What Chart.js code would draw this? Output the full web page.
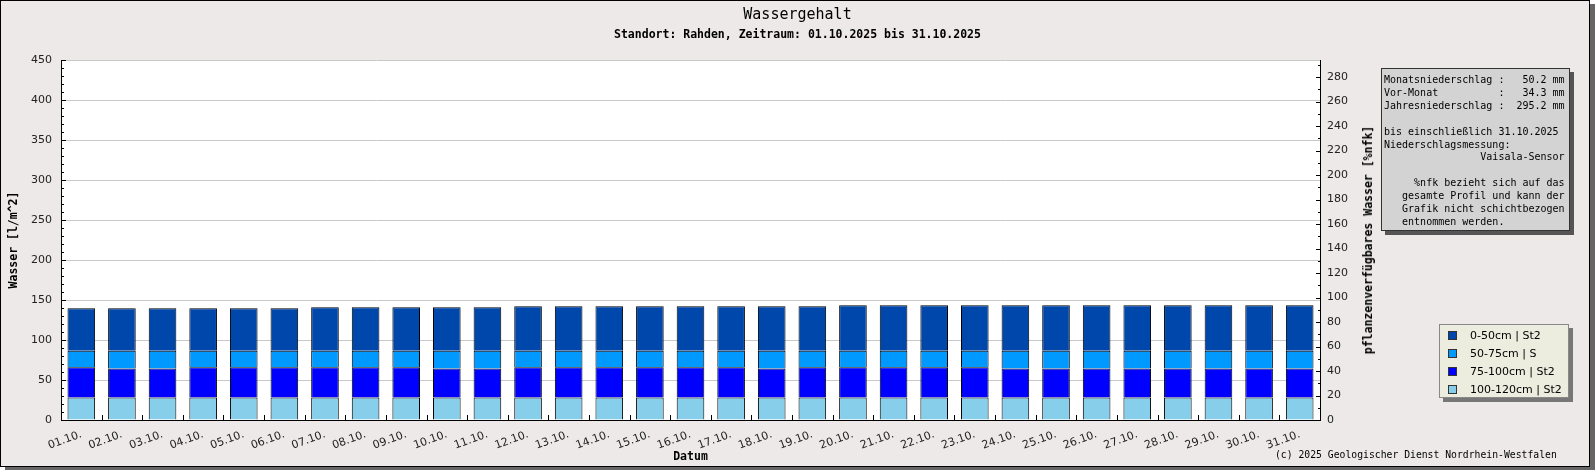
<!DOCTYPE html>
<html>
<head>
<meta charset="utf-8">
<title>Wassergehalt</title>
<script src="https://cdn.jsdelivr.net/npm/chart.js@4"></script>
<style>
html, body { margin: 0; padding: 0; background: #fff; }
#frame { position: absolute; left: 0; top: 0; width: 1590px; height: 467px; box-sizing: border-box;
	border: 1px solid #000; background: #ece9e8; box-shadow: 5px 4px 0 #666; }
#c { position: absolute; left: 0; top: 0; }
.mono { font-family: "DejaVu Sans Mono", monospace; color: #000; position: absolute; white-space: pre; }
#title { left: 0; width: 1595px; text-align: center; top: 5px; font-size: 15px; line-height: 18px; }
#subtitle { left: 0; width: 1595px; text-align: center; top: 27px; font-size: 11.5px; line-height: 14px; font-weight: bold; }
#ytitle2 { left: 1368px; top: 240px; font-size: 11.5px; line-height: 14px; font-weight: bold;
	transform: translate(-50%, -50%) rotate(-90deg); }
#info { left: 1381px; top: 68px; width: 189px; height: 163px; box-sizing: border-box; margin: 0;
	border: 1px solid #333; background: #d3d3d3; box-shadow: 4px 4px 0 #555;
	padding: 5px 2px 0 2px; font-size: 10px; line-height: 12.9px; }
#legend { position: absolute; left: 1439px; top: 324px; width: 130px; height: 74px; box-sizing: border-box;
	border: 1px solid #888; background: #ececdf; box-shadow: 4px 4px 0 #777; padding-top: 2px;
	font-family: "DejaVu Sans", sans-serif; font-size: 11px; }
#legend div { height: 18px; line-height: 18px; position: relative; padding-left: 30px; white-space: nowrap; }
#legend span { position: absolute; left: 8px; top: 4px; width: 9px; height: 9px; box-sizing: border-box; border: 1px solid #333; }
#footer { left: 1275px; top: 449px; font-size: 9.75px; line-height: 12px; }
</style>
</head>
<body>
<div id="frame"></div>
<canvas id="c" width="1595" height="470"></canvas>
<div id="title" class="mono">Wassergehalt</div>
<div id="subtitle" class="mono">Standort: Rahden, Zeitraum: 01.10.2025 bis 31.10.2025</div>
<div id="ytitle2" class="mono">pflanzenverfügbares Wasser [%nfk]</div>
<pre id="info" class="mono">Monatsniederschlag :   50.2 mm
Vor-Monat          :   34.3 mm
Jahresniederschlag :  295.2 mm

bis einschließlich 31.10.2025
Niederschlagsmessung:
                Vaisala-Sensor

     %nfk bezieht sich auf das
   gesamte Profil und kann der
   Grafik nicht schichtbezogen
   entnommen werden.</pre>
<div id="legend"></div>
<div id="footer" class="mono">(c) 2025 Geologischer Dienst Nordrhein-Westfalen</div>
<script>
// Datum (Oktober 2025)
var days = ['01.10.', '02.10.', '03.10.', '04.10.', '05.10.', '06.10.', '07.10.', '08.10.',
	'09.10.', '10.10.', '11.10.', '12.10.', '13.10.', '14.10.', '15.10.', '16.10.',
	'17.10.', '18.10.', '19.10.', '20.10.', '21.10.', '22.10.', '23.10.', '24.10.',
	'25.10.', '26.10.', '27.10.', '28.10.', '29.10.', '30.10.', '31.10.'];

// Wasser [l/m^2] je Schicht, von unten nach oben gestapelt
var layer100_120 = [28, 28, 28, 28, 28, 28, 28, 28, 28, 28, 28, 28, 28, 28, 28, 28,
	28, 28, 28, 28, 28, 28, 28, 28, 28, 28, 28, 28, 28, 28, 28];
var layer75_100 = [37.8, 36.5, 36.5, 37.8, 37.8, 37.8, 37.8, 37.8, 37.8, 36.5, 36.5, 37.8, 37.8, 37.8, 37.8, 37.8,
	37.8, 36.5, 37.8, 37.8, 37.8, 37.8, 37.8, 36.5, 36.5, 36.5, 36.5, 36.5, 36.5, 36.5, 36.5];
var layer50_75 = [20.9, 22.2, 22.2, 20.9, 20.9, 20.9, 20.9, 20.9, 20.9, 22.2, 22.2, 20.9, 20.9, 20.9, 20.9, 20.9,
	20.9, 22.2, 20.9, 20.9, 20.9, 20.9, 20.9, 22.2, 22.2, 22.2, 22.2, 22.2, 22.2, 22.2, 22.2];
var layer0_50 = [52.9, 52.9, 52.9, 52.9, 52.9, 52.9, 54.1, 54.1, 54.1, 54.1, 54.1, 55.4, 55.4, 55.4, 55.4, 55.4,
	55.4, 55.4, 55.4, 56.6, 56.6, 56.6, 56.6, 56.6, 56.6, 56.6, 56.6, 56.6, 56.6, 56.6, 56.6];

// Achsen
var leftMax = 450, leftStep = 50, leftMinor = 10;
var rightMax = 294, rightStep = 20, rightMinor = 10;

var tickFont = {family: 'DejaVu Sans', size: 11};
var titleFont = {family: 'DejaVu Sans Mono', size: 11.5, weight: 'bold'};

// weisser Plotbereich und nach innen zeigende Striche
var plotDecor = {
	id: 'plotDecor',
	beforeDraw: function(chart){
		var ctx = chart.ctx, a = chart.chartArea;
		ctx.save();
		ctx.fillStyle = '#fff';
		ctx.fillRect(a.left, a.top, a.right - a.left, a.bottom - a.top);
		ctx.restore();
	},
	afterDraw: function(chart){
		var ctx = chart.ctx, a = chart.chartArea;
		var sy = chart.scales.y, sy2 = chart.scales.y2, sx = chart.scales.x;
		var v, y, x, i, len;
		ctx.save();
		ctx.strokeStyle = '#000';
		ctx.lineWidth = 1;
		ctx.beginPath();
		for (v = 0; v <= leftMax; v += leftMinor){
			y = Math.round(sy.getPixelForValue(v)) + 0.5;
			len = (v % leftStep === 0) ? 5 : 3;
			ctx.moveTo(a.left, y);
			ctx.lineTo(a.left + len, y);
		}
		for (v = 0; v <= rightMax; v += rightMinor){
			y = Math.round(sy2.getPixelForValue(v)) + 0.5;
			len = (v % rightStep === 0) ? 4 : 2;
			ctx.moveTo(a.right, y);
			ctx.lineTo(a.right - len, y);
		}
		for (i = 1; i < days.length; i++){
			x = Math.round((sx.getPixelForValue(i - 1) + sx.getPixelForValue(i)) / 2) + 0.5;
			ctx.moveTo(x, a.bottom);
			ctx.lineTo(x, a.bottom - 5);
		}
		ctx.stroke();
		ctx.restore();
	}
};

function barSet(label, data, color){
	return {
		label: label,
		data: data,
		backgroundColor: color,
		borderColor: '#000',
		borderWidth: 1,
		categoryPercentage: 1,
		barPercentage: 0.68,
		yAxisID: 'y'
	};
}

var chart = new Chart(document.getElementById('c'), {
	type: 'bar',
	data: {
		labels: days,
		datasets: [
			barSet('100-120cm | St2', layer100_120, '#87ceeb'),
			barSet('75-100cm | St2', layer75_100, '#0000ff'),
			barSet('50-75cm | S', layer50_75, '#0099ff'),
			barSet('0-50cm | St2', layer0_50, '#0047ab')
		]
	},
	options: {
		responsive: false,
		animation: false,
		events: [],
		layout: {padding: {left: 0, right: 215, top: 60, bottom: 4}},
		plugins: {legend: {display: false}, tooltip: {enabled: false}},
		scales: {
			x: {
				stacked: true,
				offset: true,
				afterFit: function(s){ s.height = 46; },
				grid: {display: false, drawTicks: false},
				border: {display: true, color: '#000', width: 1},
				ticks: {font: tickFont, color: '#222', minRotation: 20, maxRotation: 20, autoSkip: false,
					padding: 8, labelOffset: 0},
				title: {display: true, text: 'Datum', font: titleFont, color: '#000', padding: {top: 0, bottom: 2.4}}
			},
			y: {
				stacked: true,
				position: 'left',
				min: 0,
				max: leftMax,
				afterFit: function(s){ s.width = 61; },
				grid: {color: '#c8c8c8', drawTicks: false},
				border: {display: true, color: '#000', width: 1},
				ticks: {stepSize: leftStep, font: tickFont, color: '#222', padding: 9},
				title: {display: true, text: 'Wasser [l/m^2]', font: titleFont, color: '#000', padding: {top: 6.8, bottom: 0}}
			},
			y2: {
				position: 'right',
				min: 0,
				max: rightMax,
				afterFit: function(s){ s.width = 60; },
				grid: {display: false, drawTicks: false},
				border: {display: true, color: '#000', width: 1},
				ticks: {stepSize: rightStep, includeBounds: false, font: tickFont, color: '#222', padding: 7}
			}
		}
	},
	plugins: [plotDecor]
});

// Legende aus den Datensaetzen, oberste Schicht zuerst
var wLegend = document.getElementById('legend');
chart.data.datasets.slice().reverse().forEach(function(ds){
	var row = document.createElement('div');
	var box = document.createElement('span');
	box.style.background = ds.backgroundColor;
	row.appendChild(box);
	row.appendChild(document.createTextNode(ds.label));
	wLegend.appendChild(row);
});
</script>
</body>
</html>
